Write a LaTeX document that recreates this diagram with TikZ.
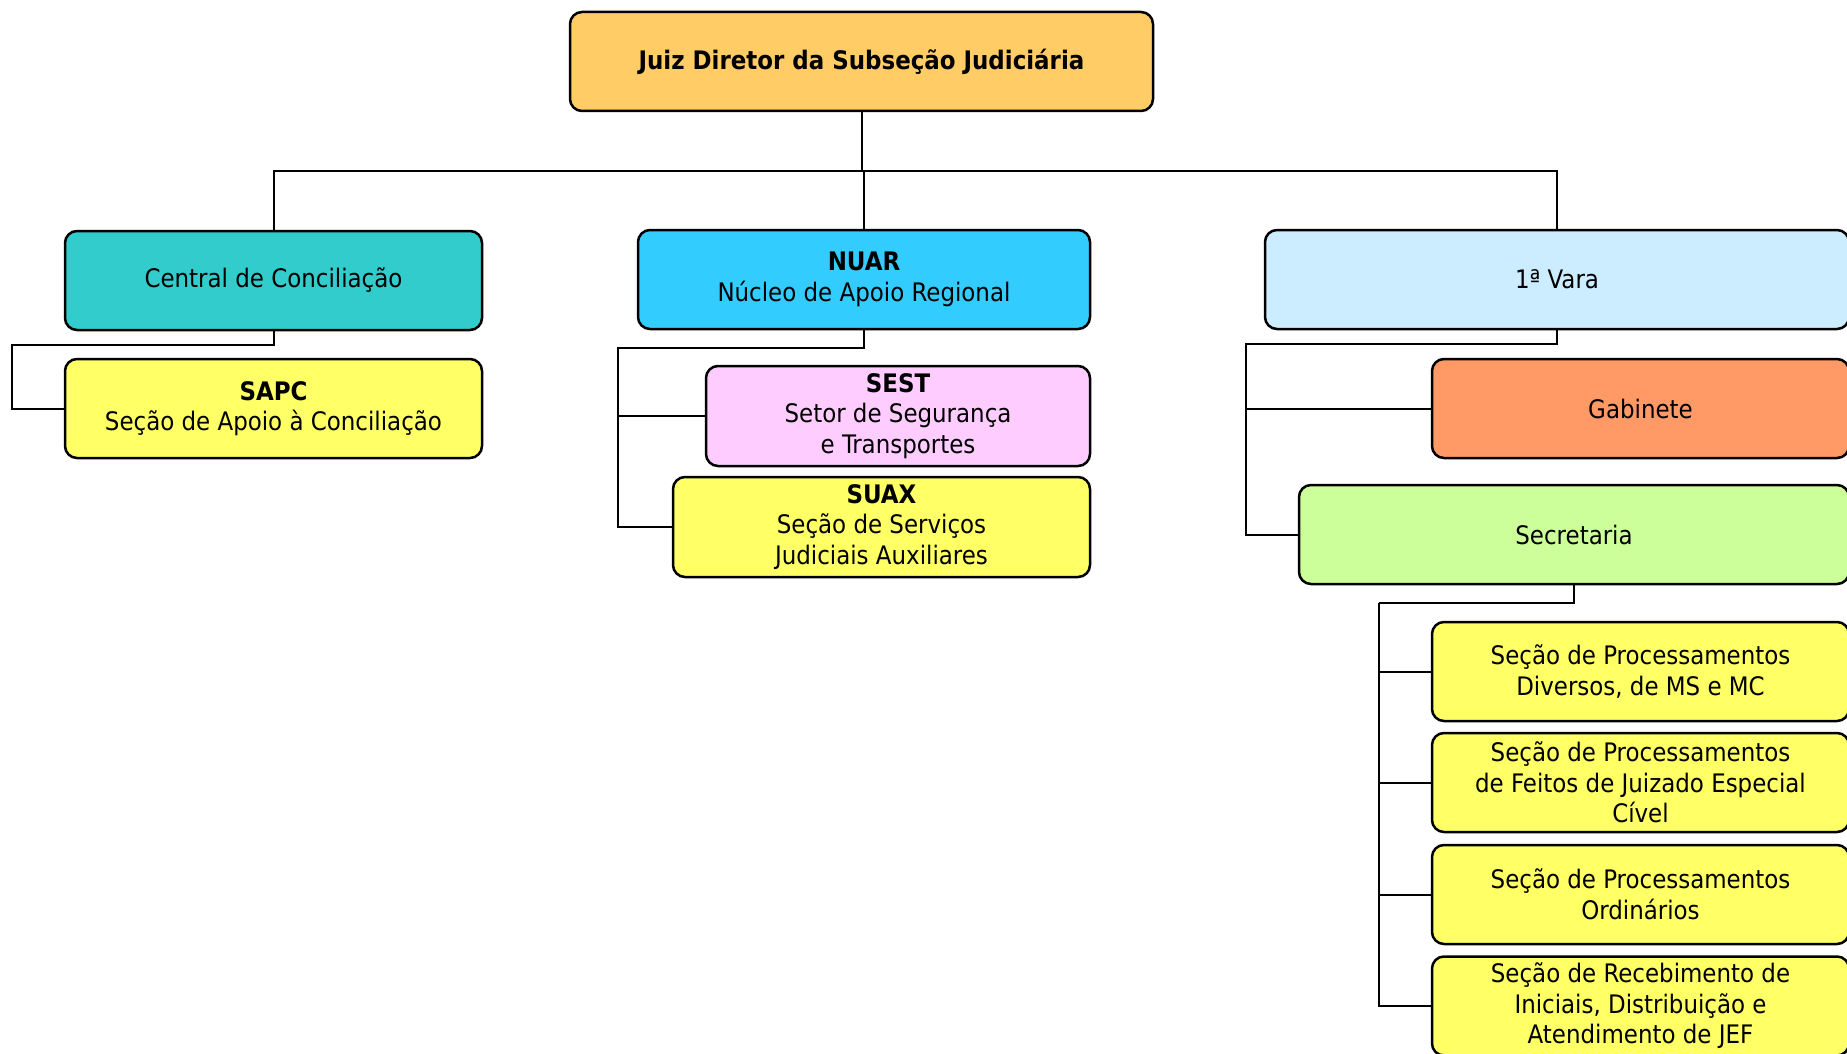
\documentclass[tikz,border=0pt]{standalone}
\usepackage{fontspec}
\setmainfont{DejaVu Sans Condensed}
\definecolor{laranja}{HTML}{FFCC66}
\definecolor{turquesa}{HTML}{33CCCC}
\definecolor{azul}{HTML}{33CCFF}
\definecolor{azulclaro}{HTML}{CCECFF}
\definecolor{amarelo}{HTML}{FFFF66}
\definecolor{rosa}{HTML}{FFCCFF}
\definecolor{salmao}{HTML}{FF9966}
\definecolor{verde}{HTML}{CCFF99}
\begin{document}
\begin{tikzpicture}[x=1pt,y=-1pt,
        caixa/.style={draw,rectangle,rounded corners=12pt,line width=2.5pt,minimum height=99pt,
            inner sep=2pt,align=center,font=\fontsize{25.5}{30.6}\selectfont},
        liga/.style={line width=2pt}]
        \clip (0,0) rectangle (1847,1054);
        \node[caixa,fill=laranja,minimum width=583pt,font=\fontsize{25.5}{30.6}\selectfont\bfseries] (J) at (861.5,61.5){Juiz Diretor da Subseção Judiciária};
        \node[caixa,fill=turquesa,minimum width=417pt] (C) at (273.5,280.5){Central de Conciliação};
        \node[caixa,fill=amarelo,minimum width=417pt] (SAPC) at (273.5,408.5){\textbf{SAPC}\\Seção de Apoio à Conciliação};
        \node[caixa,fill=azul,minimum width=452pt] (N) at (864,279.5){\textbf{NUAR}\\Núcleo de Apoio Regional};
        \node[caixa,fill=rosa,minimum width=384pt,minimum height=100pt] (SEST) at (898,416){\textbf{SEST}\\Setor de Segurança\\e Transportes};
        \node[caixa,fill=amarelo,minimum width=417pt,minimum height=100pt] (SUAX) at (881.5,527){\textbf{SUAX}\\Seção de Serviços\\Judiciais Auxiliares};
        \node[caixa,fill=azulclaro,minimum width=584pt] (V) at (1557,279.5){1ª Vara};
        \node[caixa,fill=salmao,minimum width=417pt] (G) at (1640.5,408.5){Gabinete};
        \node[caixa,fill=verde,minimum width=550pt] (S) at (1574,534.5){Secretaria};
        \node[caixa,fill=amarelo,minimum width=417pt] (P1) at (1640.5,671.5){Seção de Processamentos\\Diversos, de MS e MC};
        \node[caixa,fill=amarelo,minimum width=417pt] (P2) at (1640.5,782.5){Seção de Processamentos\\de Feitos de Juizado Especial\\Cível};
        \node[caixa,fill=amarelo,minimum width=417pt] (P3) at (1640.5,894.5){Seção de Processamentos\\Ordinários};
        \node[caixa,fill=amarelo,minimum width=417pt] (P4) at (1640.5,1006){Seção de Recebimento de\\Iniciais, Distribuição e\\Atendimento de JEF};
        \coordinate (barra) at (861.5,171);
        \coordinate (cl) at (12,345);
        \coordinate (nl) at (618,348);
        \coordinate (vl) at (1246,344);
        \coordinate (sl) at (1379,603);
        \draw[liga] (J.south) -- (barra);
        \draw[liga] (barra) -| (C.north);
        \draw[liga] (barra) -| (N.north);
        \draw[liga] (barra) -| (V.north);
        \draw[liga] (C.south) |- (cl) |- (SAPC.west);
        \draw[liga] (N.south) |- (nl) |- (SEST.west);
        \draw[liga] (nl) |- (SUAX.west);
        \draw[liga] (V.south) |- (vl) |- (G.west);
        \draw[liga] (vl) |- (S.west);
        \draw[liga] (S.south) |- (sl);
        \foreach \p in {P1,P2,P3,P4}
            \draw[liga] (sl) |- (\p.west);
    \end{tikzpicture}
\end{document}
